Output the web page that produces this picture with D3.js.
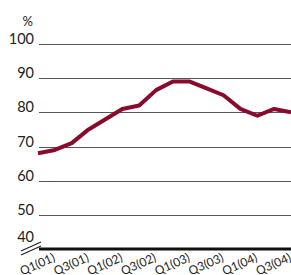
<!DOCTYPE html>
<html>
<head>
<meta charset="utf-8">
<script src="https://cdn.jsdelivr.net/npm/d3@7"></script>
<style>
  body { margin: 0; background: #fff; }
  text { font-family: Lato, "Open Sans", sans-serif; fill: #222; }
</style>
</head>
<body>
<div class="canvas"></div>
<script>
// quarterly figures, Q1 2001 .. Q4 2004
const quarters = ['Q1(01)', 'Q2(01)', 'Q3(01)', 'Q4(01)', 'Q1(02)', 'Q2(02)', 'Q3(02)', 'Q4(02)',
    'Q1(03)', 'Q2(03)', 'Q3(03)', 'Q4(03)', 'Q1(04)', 'Q2(04)', 'Q3(04)', 'Q4(04)'];
const values = [68, 69, 71, 75, 78, 81, 82, 86.5, 89, 89, 87, 85, 81, 79, 81, 80];
const xLabels = ['Q1(01)', 'Q3(01)', 'Q1(02)', 'Q3(02)', 'Q1(03)', 'Q3(03)', 'Q1(04)', 'Q3(04)'];
const yTicks = [40, 50, 60, 70, 80, 90, 100];

const dimensions = { width: 291, height: 275 };

const svg = d3.select('.canvas')
    .append('svg')
    .attr('width', dimensions.width)
    .attr('height', dimensions.height);

const x = d3.scalePoint()
    .domain(quarters)
    .range([38, 291]);

const y = d3.scaleLinear()
    .domain([40, 100])
    .range([249, 44]);

// gridlines
svg.append('g')
    .selectAll('line')
    .data(yTicks.filter(d => d > 40))
    .enter()
    .append('line')
    .attr('x1', 39)
    .attr('x2', dimensions.width)
    .attr('y1', d => Math.round(y(d)) + 0.5)
    .attr('y2', d => Math.round(y(d)) + 0.5)
    .attr('stroke', '#555')
    .attr('stroke-width', 1);

// bottom axis line
svg.append('line')
    .attr('x1', 39)
    .attr('x2', dimensions.width)
    .attr('y1', y(40))
    .attr('y2', y(40))
    .attr('stroke', '#111')
    .attr('stroke-width', 3);

// axis break marks
[0, 4].forEach(off => {
    svg.append('line')
        .attr('x1', 21)
        .attr('y1', 251 + off)
        .attr('x2', 41)
        .attr('y2', 242 + off)
        .attr('stroke', '#222')
        .attr('stroke-width', 1.2);
});

// y labels
svg.append('g')
    .selectAll('text')
    .data(yTicks)
    .enter()
    .append('text')
    .attr('x', 34)
    .attr('y', d => d === 40 ? y(d) - 7 : y(d))
    .attr('text-anchor', 'end')
    .style('font-size', '14.5px')
    .text(d => d);

svg.append('text')
    .attr('x', 33)
    .attr('y', 26)
    .attr('text-anchor', 'end')
    .style('font-size', '13px')
    .text('%');

// x labels
svg.append('g')
    .selectAll('text')
    .data(xLabels)
    .enter()
    .append('text')
    .attr('transform', d => `translate(${x(d) + 1}, 268) rotate(-24)`)
    .attr('text-anchor', 'middle')
    .style('font-size', '12px')
    .text(d => d);

// series line
const line = d3.line()
    .x((d, i) => x(quarters[i]))
    .y(d => y(d));

svg.append('path')
    .datum(values)
    .attr('d', line)
    .attr('fill', 'none')
    .attr('stroke', '#8a0a2c')
    .attr('stroke-width', 4)
    .attr('stroke-linejoin', 'round');
</script>
</body>
</html>
